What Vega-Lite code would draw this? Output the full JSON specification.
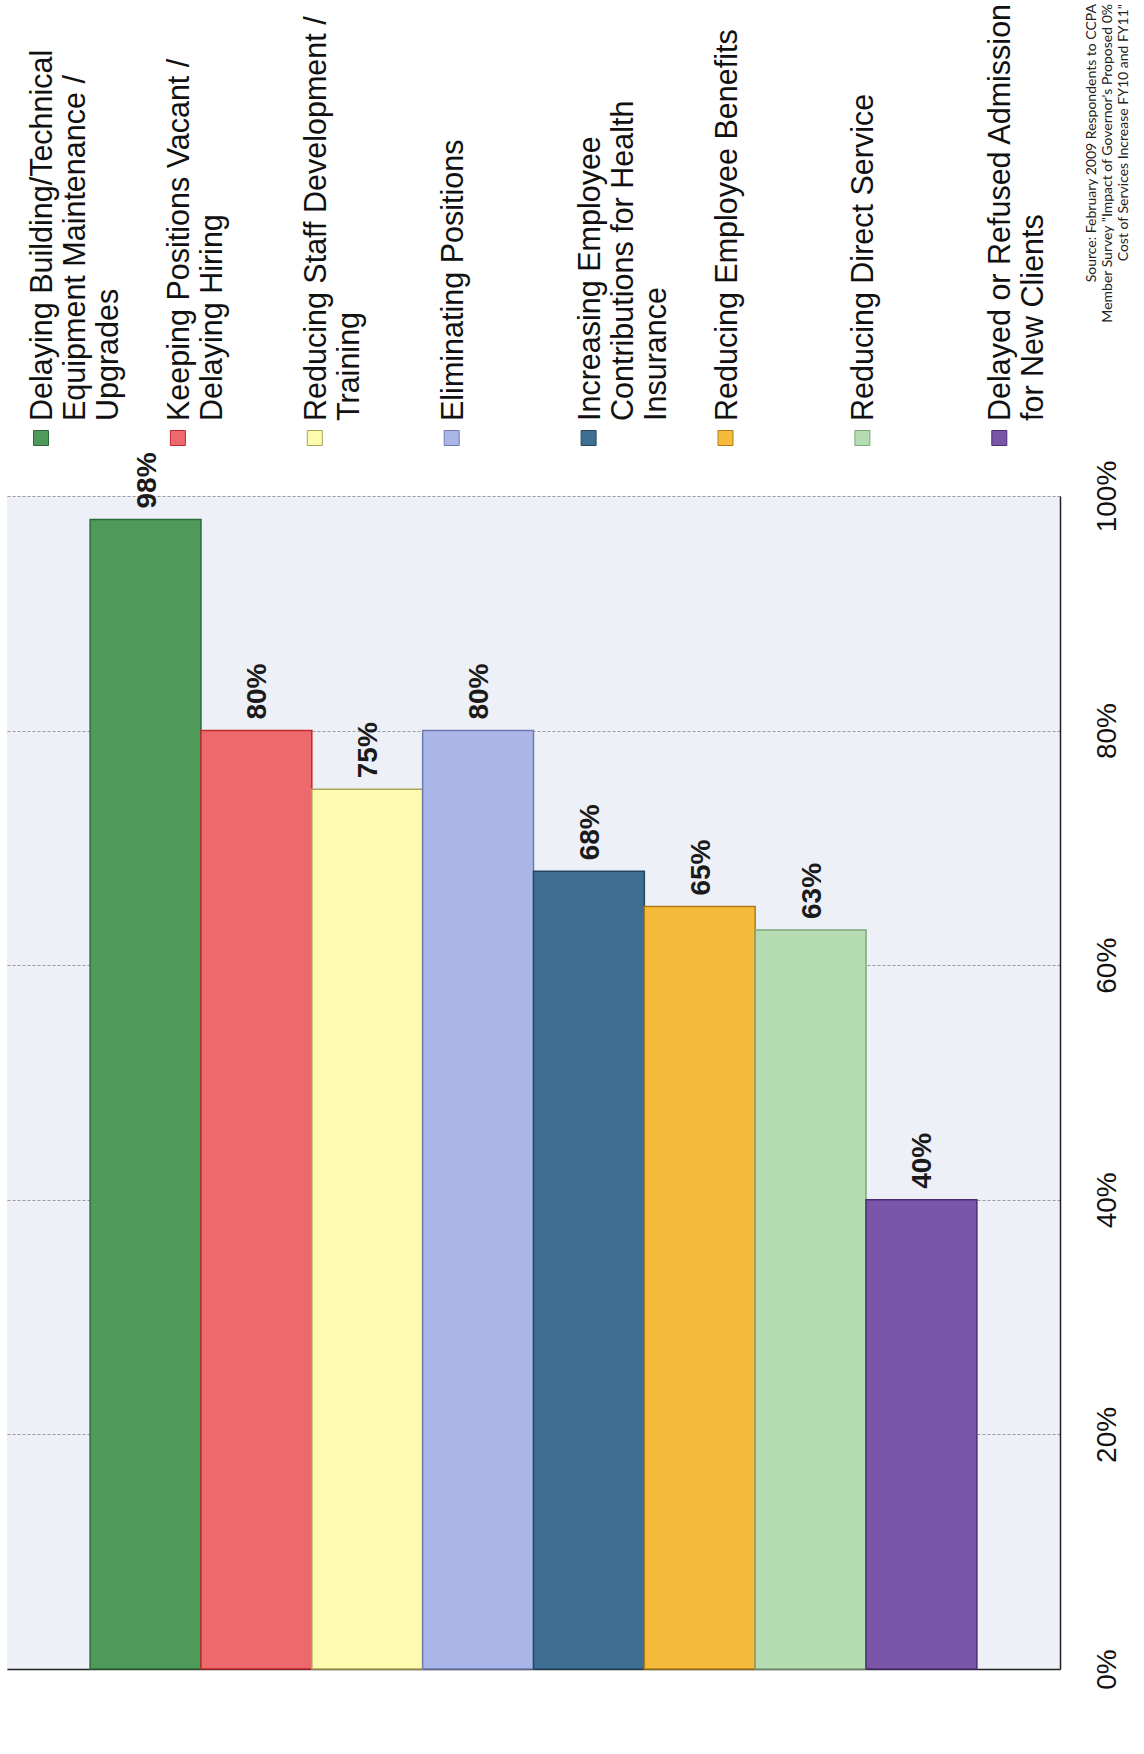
{
  "$schema": "https://vega.github.io/schema/vega-lite/v6.json",
  "padding": {"left": 7, "top": 0, "right": 0, "bottom": 0},
  "background": "white",
  "bounds": "flush",
  "spacing": 58,
  "config": {"font": "Liberation Sans", "view": {"stroke": null}},
  "datasets": {
    "bars": [
      {"cat": "Delaying Building/Technical Equipment Maintenance / Upgrades", "value": 0.98, "lines": ["Delaying Building/Technical", "Equipment Maintenance /", "Upgrades"]},
      {"cat": "Keeping Positions Vacant / Delaying Hiring", "value": 0.80, "lines": ["Keeping Positions Vacant /", "Delaying Hiring"]},
      {"cat": "Reducing Staff Development / Training", "value": 0.75, "lines": ["Reducing Staff Development /", "Training"]},
      {"cat": "Eliminating Positions", "value": 0.80, "lines": ["Eliminating Positions"]},
      {"cat": "Increasing Employee Contributions for Health Insurance", "value": 0.68, "lines": ["Increasing Employee", "Contributions for Health", "Insurance"]},
      {"cat": "Reducing Employee Benefits", "value": 0.65, "lines": ["Reducing Employee Benefits"]},
      {"cat": "Reducing Direct Service", "value": 0.63, "lines": ["Reducing Direct Service"]},
      {"cat": "Delayed or Refused Admission for New Clients", "value": 0.40, "lines": ["Delayed or Refused Admission", "for New Clients"]}
    ]
  },
  "vconcat": [
    {
      "width": 1137,
      "height": 438,
      "view": {"fill": null, "stroke": null},
      "layer": [
        {
          "data": {"name": "bars"},
          "mark": {"type": "point", "shape": "square", "size": 225, "filled": true, "opacity": 1, "strokeWidth": 1, "strokeOpacity": 1},
          "encoding": {
            "x": {"field": "cat", "type": "nominal", "sort": null, "axis": null,
                  "scale": {"type": "point", "padding": 0, "range": [34, 1129.2],
                            "domain": ["Delaying Building/Technical Equipment Maintenance / Upgrades", "Keeping Positions Vacant / Delaying Hiring", "Reducing Staff Development / Training", "Eliminating Positions", "Increasing Employee Contributions for Health Insurance", "Reducing Employee Benefits", "Reducing Direct Service", "Delayed or Refused Admission for New Clients", "Source"]}},
            "y": {"datum": 0, "type": "quantitative", "scale": {"domain": [0, 1]}, "axis": null},
            "fill": {"field": "cat", "type": "nominal", "legend": null,
                     "scale": {"domain": ["Delaying Building/Technical Equipment Maintenance / Upgrades", "Keeping Positions Vacant / Delaying Hiring", "Reducing Staff Development / Training", "Eliminating Positions", "Increasing Employee Contributions for Health Insurance", "Reducing Employee Benefits", "Reducing Direct Service", "Delayed or Refused Admission for New Clients"],
                               "range": ["#4f9a5b", "#ec6a6c", "#fdfbb0", "#aab6e8", "#3e6f92", "#f6bb3b", "#b6dcb2", "#7a55a8"]}},
            "stroke": {"field": "cat", "type": "nominal", "legend": null,
                       "scale": {"domain": ["Delaying Building/Technical Equipment Maintenance / Upgrades", "Keeping Positions Vacant / Delaying Hiring", "Reducing Staff Development / Training", "Eliminating Positions", "Increasing Employee Contributions for Health Insurance", "Reducing Employee Benefits", "Reducing Direct Service", "Delayed or Refused Admission for New Clients"],
                                 "range": ["#2d6a38", "#c0282c", "#a8a45a", "#6f7bb0", "#24475f", "#b07d14", "#7ea57b", "#4a2c72"]}}
          }
        },
        {
          "data": {"name": "bars"},
          "mark": {"type": "text", "angle": 270, "align": "left", "baseline": "alphabetic", "dx": 17, "dy": 11, "fontSize": 30.5, "lineHeight": 33, "font": "Liberation Sans", "color": "#111111"},
          "encoding": {
            "x": {"field": "cat", "type": "nominal", "sort": null, "axis": null},
            "y": {"datum": 0, "type": "quantitative", "axis": null},
            "text": {"field": "lines"}
          }
        },
        {
          "data": {"values": [{"cat": "Source", "lines": ["Source:  February 2009 Respondents to CCPA", "Member Survey \"Impact of Governor's Proposed 0%", "Cost of Services Increase FY10 and FY11\""]}]},
          "mark": {"type": "text", "angle": 270, "align": "right", "baseline": "alphabetic", "dx": -4, "dy": -40, "fontSize": 14, "lineHeight": 16, "font": "Lato", "color": "#222222"},
          "encoding": {
            "x": {"field": "cat", "type": "nominal", "axis": null},
            "y": {"datum": 1, "type": "quantitative", "axis": null},
            "text": {"field": "lines"}
          }
        }
      ]
    },
    {
      "width": 1053,
      "height": 1173,
      "view": {"fill": "#eef0f8", "stroke": null},
      "data": {"name": "bars"},
      "encoding": {
        "x": {"field": "cat", "type": "nominal", "sort": null,
              "scale": {"paddingInner": 0, "paddingOuter": 0.75},
              "axis": {"labels": false, "ticks": false, "title": null, "grid": false, "domainColor": "#222222", "domainWidth": 1.5}}
      },
      "layer": [
        {
          "mark": {"type": "bar", "strokeWidth": 1.5},
          "encoding": {
            "y": {"field": "value", "type": "quantitative", "scale": {"domain": [0, 1]},
                  "axis": {"orient": "right", "values": [0, 0.2, 0.4, 0.6, 0.8, 1], "format": ".0%", "labelAngle": 270, "labelAlign": "center", "labelBaseline": "middle", "labelFontSize": 28, "labelFont": "Liberation Sans", "labelColor": "#111111", "labelPadding": 47, "ticks": false, "tickSize": 0, "domainColor": "#222222", "domainWidth": 1.5, "grid": true, "gridDash": [3, 2], "gridColor": "#9a9a9a", "gridWidth": 1, "title": null}},
            "fill": {"field": "cat", "type": "nominal", "legend": null,
                     "scale": {"domain": ["Delaying Building/Technical Equipment Maintenance / Upgrades", "Keeping Positions Vacant / Delaying Hiring", "Reducing Staff Development / Training", "Eliminating Positions", "Increasing Employee Contributions for Health Insurance", "Reducing Employee Benefits", "Reducing Direct Service", "Delayed or Refused Admission for New Clients"],
                               "range": ["#4f9a5b", "#ec6a6c", "#fdfbb0", "#aab6e8", "#3e6f92", "#f6bb3b", "#b6dcb2", "#7a55a8"]}},
            "stroke": {"field": "cat", "type": "nominal", "legend": null,
                       "scale": {"domain": ["Delaying Building/Technical Equipment Maintenance / Upgrades", "Keeping Positions Vacant / Delaying Hiring", "Reducing Staff Development / Training", "Eliminating Positions", "Increasing Employee Contributions for Health Insurance", "Reducing Employee Benefits", "Reducing Direct Service", "Delayed or Refused Admission for New Clients"],
                                 "range": ["#2d6a38", "#c0282c", "#a8a45a", "#6f7bb0", "#24475f", "#b07d14", "#7ea57b", "#4a2c72"]}}
          }
        },
        {
          "mark": {"type": "text", "angle": 270, "align": "left", "baseline": "alphabetic", "dx": 11, "dy": 10, "fontSize": 28, "fontWeight": "bold", "font": "Liberation Sans", "color": "#1a1a1a"},
          "encoding": {
            "y": {"field": "value", "type": "quantitative"},
            "text": {"field": "value", "type": "quantitative", "format": ".0%"}
          }
        }
      ]
    }
  ]
}
